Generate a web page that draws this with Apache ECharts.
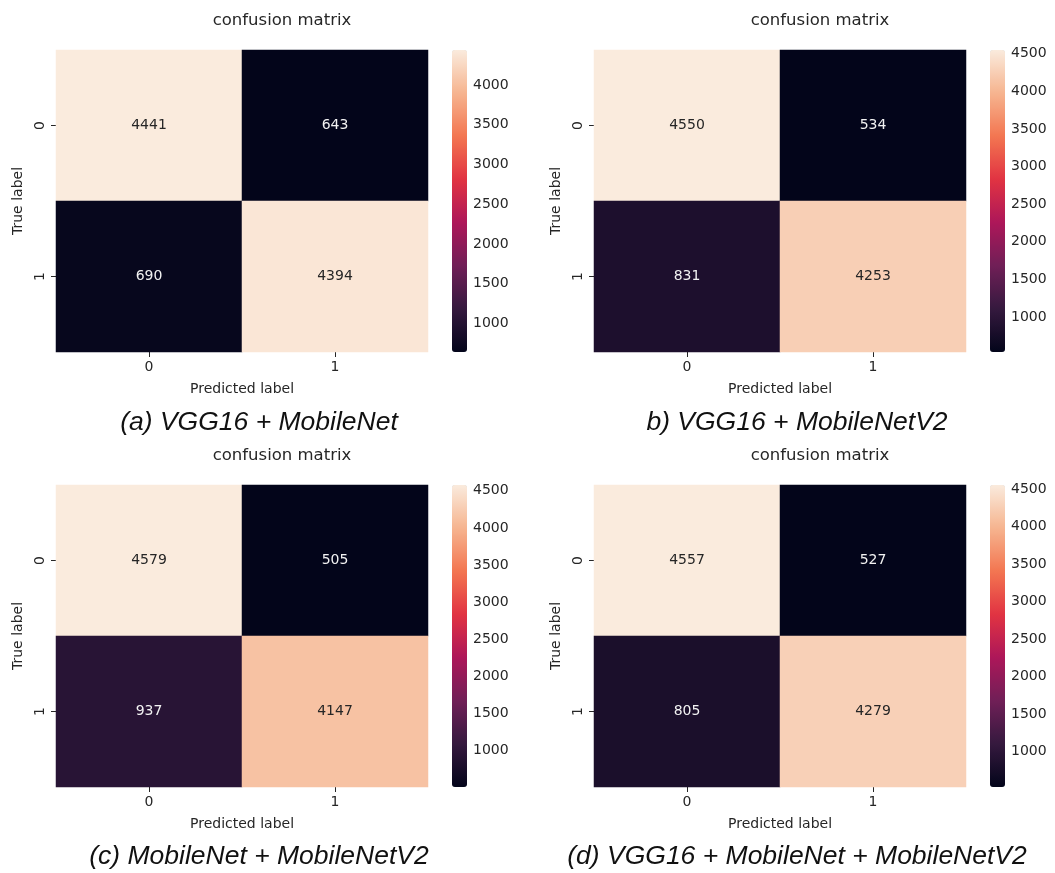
<!DOCTYPE html>
<html><head><meta charset="utf-8">
<script src="https://cdn.jsdelivr.net/npm/echarts@6/dist/echarts.min.js"></script>
<style>html,body{margin:0;padding:0;background:#fff}#c{width:1055px;height:873px}</style>
</head><body><div id="c"></div>
<script>
// ---- data ----
const classLabels = ['0', '1'];
const matrixA = [[4441, 643], [690, 4394]];
const matrixB = [[4550, 534], [831, 4253]];
const matrixC = [[4579, 505], [937, 4147]];
const matrixD = [[4557, 527], [805, 4279]];
const colorbarTicks = [1000, 1500, 2000, 2500, 3000, 3500, 4000, 4500];
const captions = ['(a) VGG16 + MobileNet', 'b) VGG16 + MobileNetV2', '(c) MobileNet + MobileNetV2', '(d) VGG16 + MobileNet + MobileNetV2'];
const chartTitle = 'confusion matrix';
const xName = 'Predicted label';
const yName = 'True label';

// seaborn "rocket" colormap samples at k/7
const rocket = ['#03051a', '#35193e', '#701f57', '#ad1759', '#e13342', '#f37651', '#f6b48f', '#faebdd'];

const panels = [
  { m: matrixA, left: 56, top: 50, cbLeft: 452, titleX: 282, titleY: 21, capX: 259, capY: 423 },
  { m: matrixB, left: 594, top: 50, cbLeft: 990, titleX: 820, titleY: 21, capX: 797, capY: 423 },
  { m: matrixC, left: 56, top: 485, cbLeft: 452, titleX: 282, titleY: 456, capX: 259, capY: 857 },
  { m: matrixD, left: 594, top: 485, cbLeft: 990, titleX: 820, titleY: 456, capX: 797, capY: 857 }
];
const W = 372, H = 302, CBW = 15;
const txt = '#262626';
const font = 'DejaVu Sans';

const grid = [], xAxis = [], yAxis = [], series = [], visualMap = [], graphic = [];

panels.forEach((p, i) => {
  const flat = p.m.flat();
  const mn = Math.min(...flat), mx = Math.max(...flat);
  const ticks = colorbarTicks.filter(v => v >= mn && v <= mx);
  grid.push({ left: p.left, top: p.top, width: W, height: H, containLabel: false });
  grid.push({ left: p.cbLeft, top: p.top, width: CBW, height: H, containLabel: false });
  xAxis.push({
    type: 'category', gridIndex: 2 * i, data: classLabels, position: 'bottom',
    axisLine: { show: false },
    axisTick: { show: true, alignWithLabel: true, length: 5, lineStyle: { color: txt } },
    axisLabel: { fontSize: 14, color: txt, margin: 8, fontFamily: font },
    splitLine: { show: false }, splitArea: { show: false },
    name: xName, nameLocation: 'middle', nameGap: 30,
    nameTextStyle: { fontSize: 14, color: txt, fontFamily: font }
  });
  yAxis.push({
    type: 'category', gridIndex: 2 * i, data: classLabels, inverse: true,
    axisLine: { show: false },
    axisTick: { show: true, alignWithLabel: true, length: 5, lineStyle: { color: txt } },
    axisLabel: { fontSize: 14, color: txt, margin: 9, rotate: 90, fontFamily: font },
    splitLine: { show: false }, splitArea: { show: false },
    name: yName, nameLocation: 'middle', nameGap: 31, nameRotate: 90,
    nameTextStyle: { fontSize: 14, color: txt, fontFamily: font }
  });
  xAxis.push({ type: 'value', gridIndex: 2 * i + 1, show: false, min: 0, max: 1 });
  yAxis.push({
    type: 'value', gridIndex: 2 * i + 1, min: mn, max: mx, position: 'right',
    axisLine: { show: false },
    axisTick: { show: true, length: 4, customValues: ticks, lineStyle: { color: txt } },
    axisLabel: { show: true, customValues: ticks, formatter: v => String(v), fontSize: 14, color: txt, margin: 6, fontFamily: font },
    splitLine: { show: false }
  });
  const data = [];
  p.m.forEach((row, r) => row.forEach((v, c) => {
    const t = (v - mn) / (mx - mn);
    data.push({ value: [c, r, v], label: { color: t > 0.6 ? txt : '#f2f2f2' } });
  }));
  series.push({
    type: 'heatmap', xAxisIndex: 2 * i, yAxisIndex: 2 * i, data,
    label: { show: true, formatter: q => String(q.value[2]), fontSize: 14, fontFamily: font },
    emphasis: { disabled: true }
  });
  visualMap.push({
    type: 'continuous', seriesIndex: i, min: mn, max: mx, calculable: false,
    orient: 'vertical', left: p.cbLeft, top: p.top, itemWidth: CBW, itemHeight: H,
    padding: 0, inRange: { color: rocket }, hoverLink: false
  });
  graphic.push({
    type: 'text', x: p.titleX, y: p.titleY, silent: true,
    style: { text: chartTitle, fontSize: 16.5, fontFamily: font, fill: txt, align: 'center', verticalAlign: 'middle' }
  });
  graphic.push({
    type: 'text', x: p.capX, y: p.capY, silent: true,
    style: { text: captions[i], fontSize: 26.5, fontStyle: 'italic', fontFamily: 'Liberation Sans', fill: '#111', align: 'center', verticalAlign: 'middle' }
  });
});

const chart = echarts.init(document.getElementById('c'), null, { renderer: 'canvas' });
chart.setOption({
  animation: false,
  backgroundColor: '#fff',
  textStyle: { fontFamily: font },
  grid, xAxis, yAxis, series, visualMap, graphic
});
</script>
</body></html>
